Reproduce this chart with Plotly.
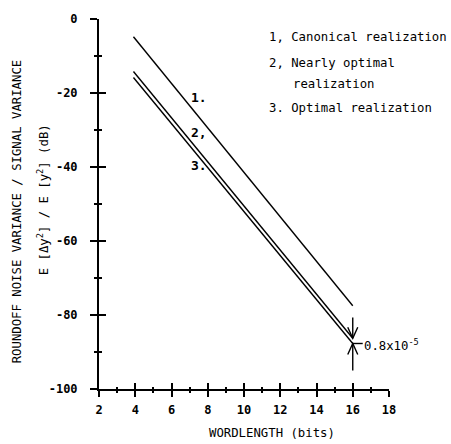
import plotly.graph_objects as go

# Data
wordlength = [3.9, 16]
canonical = [-4.8, -77.5]
nearly_optimal = [-14.2, -86.3]
optimal = [-15.8, -87.7]

x_ticks = [2, 4, 6, 8, 10, 12, 14, 16, 18]
y_ticks = [0, -20, -40, -60, -80, -100]
y_ticktext = ["0", "-20", "-40", "-60", "-80", "-100"]

legend_lines = ["1, Canonical realization", "2, Nearly optimal", "realization", "3. Optimal realization"]
curve_labels = ["1.", "2,", "3."]

FONT = "DejaVu Sans Mono"
L, R, T, B = 99, 62, 16, 55

fig = go.Figure()
for ys in (canonical, nearly_optimal, optimal):
    fig.add_trace(go.Scatter(x=wordlength, y=ys, mode="lines",
                             line=dict(color="black", width=1.4),
                             showlegend=False, hoverinfo="skip"))
# invisible trace on overlay axes so inside ticks are drawn
fig.add_trace(go.Scatter(x=[2], y=[-100], xaxis="x2", yaxis="y2", mode="markers",
                         marker=dict(opacity=0), showlegend=False, hoverinfo="skip"))

common_x = dict(range=[2, 18], showgrid=False, zeroline=False, tickvals=x_ticks)
common_y = dict(range=[-100, 0], showgrid=False, zeroline=False, tickvals=y_ticks)

fig.update_layout(
    width=451, height=444,
    margin=dict(l=L, r=R, t=T, b=B),
    paper_bgcolor="white", plot_bgcolor="white",
    font=dict(family=FONT, size=12, color="black"),
    xaxis=dict(**common_x, ticks="outside", ticklen=6, tickwidth=1.5, tickcolor="black",
               showline=True, linecolor="black", linewidth=2,
               ticktext=[str(v) for v in x_ticks],
               tickfont=dict(family=FONT, size=12, weight="bold"),
               ticklabelstandoff=3,
               minor=dict(dtick=1, ticks="outside", ticklen=2, tickwidth=1.5, tickcolor="black")),
    yaxis=dict(**common_y, ticks="outside", ticklen=7, tickwidth=1.5, tickcolor="black",
               showline=True, linecolor="black", linewidth=2,
               ticktext=y_ticktext,
               tickfont=dict(family=FONT, size=12, weight="bold"),
               ticklabelstandoff=10,
               minor=dict(dtick=10, ticks="outside", ticklen=3, tickwidth=1.5, tickcolor="black")),
    xaxis2=dict(**common_x, overlaying="x", anchor="y", side="bottom", ticks="inside",
                ticklen=6, tickwidth=1.5, tickcolor="black", showticklabels=False,
                showline=False,
                minor=dict(dtick=1, ticks="inside", ticklen=2, tickwidth=1.5, tickcolor="black")),
    yaxis2=dict(**common_y, overlaying="y", anchor="x", side="left", ticks="inside",
                ticklen=7, tickwidth=1.5, tickcolor="black", showticklabels=False,
                showline=False,
                minor=dict(dtick=10, ticks="inside", ticklen=3, tickwidth=1.5, tickcolor="black")),
)

# Axis titles
fig.add_annotation(text="ROUNDOFF NOISE VARIANCE / SIGNAL VARIANCE", xref="paper", yref="paper",
                   x=-0.283, y=0.48, xanchor="center", yanchor="middle", textangle=-90,
                   showarrow=False, font=dict(family=FONT, size=12.3))
fig.add_annotation(text="E [Δy<sup>2</sup>] / E [y<sup>2</sup>] (dB)", xref="paper", yref="paper",
                   x=-0.193, y=0.51, xanchor="center", yanchor="middle", textangle=-90,
                   showarrow=False, font=dict(family=FONT, size=12.3))
fig.add_annotation(text="WORDLENGTH (bits)", xref="paper", yref="paper",
                   x=0.597, y=-0.118, xanchor="center", yanchor="middle",
                   showarrow=False, font=dict(family=FONT, size=12.3))

# Legend text
leg_pos = [(11.27, -4.8), (11.27, -12.0), (12.6, -17.7), (11.27, -24.1)]
for txt, (lx, ly) in zip(legend_lines, leg_pos):
    fig.add_annotation(text=txt, x=lx, y=ly, xanchor="left", yanchor="middle",
                       showarrow=False, font=dict(family=FONT, size=12.3))

# Curve labels
lab_pos = [(7.5, -21.2), (7.5, -30.6), (7.5, -39.5)]
for txt, (lx, ly) in zip(curve_labels, lab_pos):
    fig.add_annotation(text=txt, x=lx, y=ly, xanchor="center", yanchor="middle",
                       showarrow=False, font=dict(family=FONT, size=13, weight="bold"))

# Arrows marking the difference at 16 bits
x_end = wordlength[-1]
arrow_line = dict(color="black", width=1.4)
# stems
fig.add_shape(type="line", x0=x_end, x1=x_end, y0=-80.7, y1=nearly_optimal[-1], line=arrow_line)
fig.add_shape(type="line", x0=x_end, x1=x_end, y0=-95.0, y1=optimal[-1], line=arrow_line)
# open V heads (pixel-sized, anchored at line ends)
fig.add_shape(type="path", xsizemode="pixel", ysizemode="pixel",
              xanchor=x_end, yanchor=nearly_optimal[-1],
              path="M-5,11 L0,0 L5,11", line=arrow_line)
fig.add_shape(type="path", xsizemode="pixel", ysizemode="pixel",
              xanchor=x_end, yanchor=optimal[-1],
              path="M-5,-11 L0,0 L5,-11", line=arrow_line)
# connector to the label
fig.add_shape(type="line", x0=x_end, x1=x_end + 0.55, y0=optimal[-1], y1=optimal[-1],
              line=arrow_line)
fig.add_annotation(text="0.8x10<sup>-5</sup>", x=x_end + 0.5, y=-88.0, xanchor="left",
                   yanchor="middle", showarrow=False, font=dict(family=FONT, size=12.3))

fig.write_html("out.html", config={"displayModeBar": False},
               post_script="document.body.style.margin='0';")
